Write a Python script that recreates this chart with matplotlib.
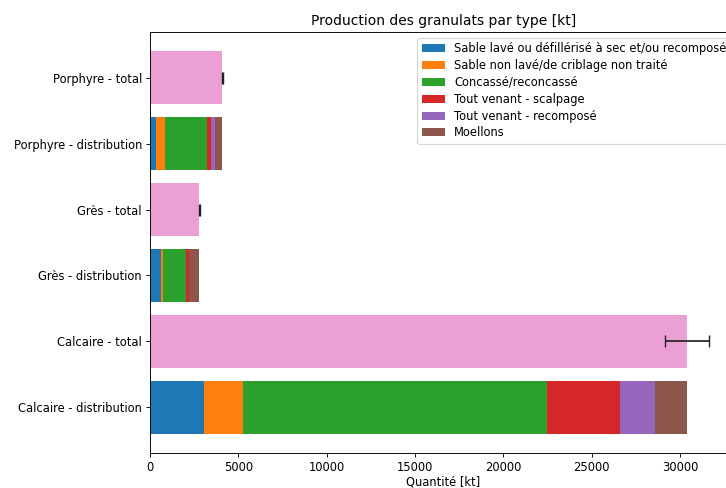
import matplotlib
matplotlib.use('Agg')
import matplotlib.pyplot as plt
import numpy as np

# everything drawn a bit smaller than the defaults
s = 0.83
plt.rcParams.update({
    'font.size': 10 * s,
    'axes.titlesize': 12 * s,
    'axes.linewidth': 0.8 * s,
    'xtick.major.size': 3.5 * s,
    'ytick.major.size': 3.5 * s,
    'xtick.major.width': 0.8 * s,
    'ytick.major.width': 0.8 * s,
    'xtick.major.pad': 3.5 * s,
    'ytick.major.pad': 3.5 * s,
    'lines.linewidth': 1.5 * s,
    'patch.linewidth': 1.0 * s,
    'axes.titlepad': 6 * s,
    'axes.labelpad': 1.2,
})

# production by rock type, split by product [kt]
rocks = ['Calcaire', 'Grès', 'Porphyre']
products = ['Sable lavé ou défillérisé à sec et/ou recomposé',
            'Sable non lavé/de criblage non traité',
            'Concassé/reconcassé',
            'Tout venant - scalpage',
            'Tout venant - recomposé',
            'Moellons']
colors = ['tab:blue', 'tab:orange', 'tab:green', 'tab:red', 'tab:purple', 'tab:brown']

calcaire = [3050, 2200, 17250, 4100, 2000, 1800]
gres = [620, 100, 1320, 150, 30, 580]
porphyre = [360, 490, 2375, 225, 210, 440]
totals = [30400, 2800, 4100]
total_err = [1250, 40, 40]

dist = np.array([calcaire, gres, porphyre])

fig = plt.figure(figsize=(7.26, 4.88), dpi=100)
ax = fig.add_axes([150/726, 35/488, 587/726, 421/488])

labels = []
for i, rock in enumerate(rocks):
    y_dist = 2*i
    y_tot = 2*i + 1
    left = 0
    for j in range(len(products)):
        ax.barh(y_dist, dist[i, j], left=left, color=colors[j],
                label=products[j] if i == 0 else None)
        left += dist[i, j]
    ax.barh(y_tot, totals[i], xerr=total_err[i], color='tab:pink', alpha=0.7,
            capsize=5 * s, ecolor='#222222')
    labels += [rock + ' - distribution', rock + ' - total']

ax.set_yticks(range(len(labels)))
ax.set_yticklabels(labels)
ax.set_xlabel('Quantité [kt]')
ax.set_title('Production des granulats par type [kt]')
ax.legend(loc='upper right', labelspacing=0.33)

fig.savefig('out.png', dpi=100)
